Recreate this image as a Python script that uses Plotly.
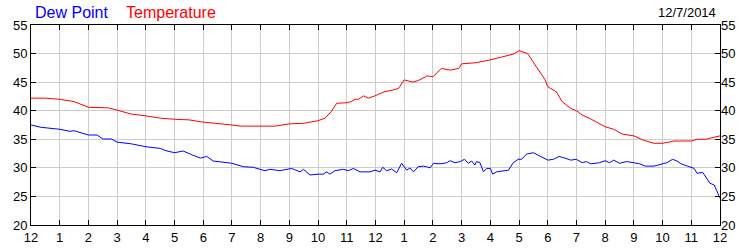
import plotly.graph_objects as go

# Hours since midnight (0..24) and readings
temp_hours = [0, 0.5, 1, 1.5, 2, 2.5, 2.7, 3, 3.5, 4, 4.5, 5, 5.5, 6, 6.5, 7, 7.3, 8, 8.5,
              9, 9.5, 10, 10.24, 10.45, 10.65, 11.0, 11.15, 11.29, 11.41, 11.58, 11.75, 11.98,
              12.3, 12.6, 12.8, 13.0, 13.3, 13.5, 13.8, 14.0, 14.3, 14.6, 14.9, 15.0, 15.5,
              16.0, 16.5, 16.8, 17.0, 17.3, 17.6, 17.9, 18.0, 18.3, 18.5, 18.8, 19.0, 19.2,
              19.5, 20.0, 20.3, 20.6, 21.0, 21.3, 21.7, 22.0, 22.4, 23.0, 23.2, 23.5, 24.0]
temperature = [42.2, 42.2, 42.0, 41.6, 40.6, 40.5, 40.5, 40.1, 39.4, 39.1, 38.7, 38.5, 38.4,
               38.0, 37.8, 37.5, 37.3, 37.3, 37.3, 37.7, 37.8, 38.25, 38.7, 39.8, 41.3, 41.4,
               41.6, 42.0, 42.0, 42.6, 42.2, 42.6, 43.3, 43.6, 43.9, 45.4, 45.0, 45.3, 46.1,
               45.95, 47.4, 47.1, 47.4, 48.2, 48.4, 48.9, 49.6, 49.9, 50.5, 50.0, 47.7, 45.5,
               44.2, 43.3, 41.6, 40.4, 40.0, 39.25, 38.55, 37.2, 36.75, 35.9, 35.6, 34.9, 34.3,
               34.3, 34.7, 34.7, 35.0, 35.0, 35.6]

dew_hours = [0, 0.35, 1, 1.35, 1.5, 2, 2.3, 2.5, 2.8, 3, 3.5, 4, 4.5, 4.7, 5, 5.3, 5.55, 5.9,
             6.12, 6.35, 7.0, 7.4, 7.74, 8.0, 8.15, 8.33, 8.67, 9.08, 9.37, 9.49, 9.72, 10.0,
             10.18, 10.3, 10.41, 10.59, 10.88, 11.05, 11.23, 11.46, 11.81, 11.98, 12.16, 12.25,
             12.39, 12.56, 12.74, 12.91, 13.09, 13.2, 13.32, 13.49, 13.67, 13.78, 13.9, 14.02,
             14.25, 14.48, 14.6, 14.77, 14.95, 15.1, 15.23, 15.35, 15.46, 15.52, 15.64, 15.76,
             15.87, 16.0, 16.08, 16.22, 16.45, 16.63, 16.8, 16.97, 17.09, 17.26, 17.5, 17.73,
             18.0, 18.2, 18.4, 18.6, 18.8, 19.0, 19.2, 19.35, 19.5, 19.8, 20.0, 20.15, 20.3,
             20.5, 20.75, 21.0, 21.2, 21.4, 21.7, 22.0, 22.15, 22.35, 22.5, 22.65, 22.9, 23.1,
             23.2, 23.4, 23.65, 23.8, 24.0]
dew_point = [37.5, 37.1, 36.75, 36.4, 36.5, 35.75, 35.75, 35.05, 35.05, 34.5, 34.2, 33.7, 33.4,
             33.0, 32.65, 32.95, 32.4, 31.7, 32.0, 31.2, 30.8, 30.2, 30.1, 29.75, 29.5, 29.75,
             29.5, 29.9, 29.3, 29.75, 28.75, 28.9, 28.9, 29.3, 28.9, 29.5, 29.75, 29.5, 29.9,
             29.3, 29.3, 29.6, 29.3, 30.1, 29.5, 29.8, 29.15, 30.8, 29.6, 30.0, 29.3, 30.2, 30.3,
             30.2, 30.0, 30.8, 30.7, 30.9, 31.25, 30.9, 31.1, 31.5, 30.8, 31.2, 30.5, 31.1, 30.9,
             29.3, 29.9, 29.9, 28.9, 29.3, 29.5, 29.6, 30.9, 31.5, 31.5, 32.4, 32.65, 32.1,
             31.35, 31.5, 32.0, 31.7, 31.35, 31.5, 30.9, 31.1, 30.7, 30.9, 31.25, 30.9, 31.35,
             30.8, 31.1, 30.9, 30.7, 30.3, 30.3, 30.7, 30.9, 31.5, 31.2, 30.7, 30.3, 29.9,
             29.05, 29.2, 27.3, 27.0, 24.7]

x_tickvals = list(range(25))
x_ticktext = ["12", "1", "2", "3", "4", "5", "6", "7", "8", "9", "10", "11",
              "12", "1", "2", "3", "4", "5", "6", "7", "8", "9", "10", "11", "12"]
y_tickvals = [20, 25, 30, 35, 40, 45, 50, 55]
date_label = "12/7/2014"

FONT = "Liberation Sans, Arial, sans-serif"

fig = go.Figure()
fig.add_trace(go.Scatter(x=temp_hours, y=temperature, mode="lines",
                         line=dict(color="#ff0000", width=1), name="Temperature",
                         showlegend=False))
fig.add_trace(go.Scatter(x=dew_hours, y=dew_point, mode="lines",
                         line=dict(color="#0000ff", width=1), name="Dew Point",
                         showlegend=False))
# invisible helper trace so the right-hand axis is drawn
fig.add_trace(go.Scatter(x=[0], y=[20], yaxis="y2", mode="markers",
                         marker=dict(opacity=0), hoverinfo="skip", showlegend=False))

axis_common = dict(showline=True, linecolor="black", linewidth=1, mirror="ticks",
                   ticks="inside", ticklen=5, tickcolor="black", tickwidth=1,
                   showgrid=True, gridcolor="#cccccc", gridwidth=1, zeroline=False,
                   automargin=False,
                   tickfont=dict(family=FONT, size=13, color="black"))

fig.update_layout(
    width=750, height=250,
    margin=dict(l=31, r=30, t=25, b=25),
    paper_bgcolor="white", plot_bgcolor="white",
    xaxis=dict(range=[0, 24], tickmode="array", tickvals=x_tickvals, ticktext=x_ticktext,
               ticklabelstandoff=0, **axis_common),
    yaxis=dict(range=[20, 55], tickmode="array", tickvals=y_tickvals, **axis_common),
    yaxis2=dict(range=[20, 55], tickmode="array", tickvals=y_tickvals, overlaying="y",
                side="right", showgrid=False, zeroline=False, showline=False, ticks="",
                automargin=False,
                tickfont=dict(family=FONT, size=13, color="black")),
    annotations=[
        dict(text="Dew Point", xref="paper", yref="paper", x=0.003, y=1.065,
             xanchor="left", yanchor="middle", showarrow=False,
             font=dict(family=FONT, size=16, color="#0000ff")),
        dict(text="Temperature", xref="paper", yref="paper", x=0.135, y=1.065,
             xanchor="left", yanchor="middle", showarrow=False,
             font=dict(family=FONT, size=16, color="#ff0000")),
        dict(text=date_label, xref="paper", yref="paper", x=0.997, y=1.065,
             xanchor="right", yanchor="middle", showarrow=False,
             font=dict(family=FONT, size=13, color="black")),
    ],
)

fig.write_html("out.html")
